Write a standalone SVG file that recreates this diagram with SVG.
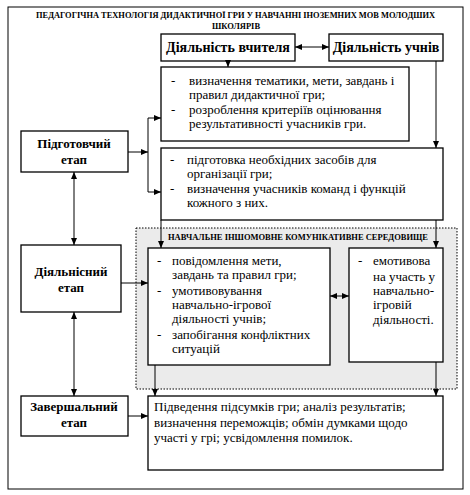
<svg xmlns="http://www.w3.org/2000/svg" width="470" height="495" viewBox="0 0 470 495">
<defs>
<marker id="ah" markerWidth="7" markerHeight="6" refX="7" refY="3" orient="auto-start-reverse" markerUnits="userSpaceOnUse">
<path d="M0,0 L7,3 L0,6 z" fill="#000"/>
</marker>
</defs>
<style>
.box{fill:#fff;stroke:#000;stroke-width:1.3}
.t{font-family:'Liberation Serif','Times New Roman','DejaVu Serif',serif;font-size:13px;fill:#000}
.b{font-family:'Liberation Serif','Times New Roman','DejaVu Serif',serif;font-weight:bold;fill:#000}
.c{fill:none;stroke:#000;stroke-width:1}
</style>
<rect x="0" y="0" width="470" height="495" fill="#fff"/>
<rect x="8" y="7" width="455" height="482" fill="none" stroke="#000" stroke-width="1"/>
<g id="title">
<text class="b" x="36" y="18" font-size="8.5" textLength="399" lengthAdjust="spacingAndGlyphs">ПЕДАГОГІЧНА  ТЕХНОЛОГІЯ   ДИДАКТИЧНОЇ  ГРИ У НАВЧАННІ  ІНОЗЕМНИХ  МОВ МОЛОДШИХ</text>
<text class="b" x="236" y="29" font-size="8.5" text-anchor="middle">ШКОЛЯРІВ</text>
</g>
<g id="environment">
<rect x="136" y="228" width="321" height="161" fill="#ebebeb" stroke="#000" stroke-width="1" stroke-dasharray="1.5,1.5"/>
<text class="b" x="168" y="240" font-size="8.5" textLength="260" lengthAdjust="spacingAndGlyphs">НАВЧАЛЬНЕ   ІНШОМОВНЕ  КОМУНІКАТИВНЕ     СЕРЕДОВИЩЕ</text>
</g>
<g id="teacher">
<rect class="box" x="161" y="34" width="134" height="27"/>
<text class="b" x="228" y="52" font-size="14" text-anchor="middle">Діяльність вчителя</text>
</g>
<g id="students">
<rect class="box" x="329" y="34" width="114" height="27"/>
<text class="b" x="386" y="52" font-size="14" text-anchor="middle">Діяльність учнів</text>
</g>
<g id="prep">
<rect class="box" x="21" y="131" width="107" height="41"/>
<text class="b" x="74" y="148" font-size="13" text-anchor="middle">Підготовчий</text>
<text class="b" x="74" y="164" font-size="13" text-anchor="middle">етап</text>
</g>
<g id="activity">
<rect class="box" x="21" y="245" width="100" height="67"/>
<text class="b" x="71" y="276" font-size="13" text-anchor="middle">Діяльнісний</text>
<text class="b" x="71" y="292" font-size="13" text-anchor="middle">етап</text>
</g>
<g id="final">
<rect class="box" x="21" y="396" width="107" height="40"/>
<text class="b" x="74" y="411" font-size="13" text-anchor="middle">Завершальний</text>
<text class="b" x="74" y="427" font-size="13" text-anchor="middle">етап</text>
</g>
<g id="box1">
<rect class="box" x="161" y="67" width="248" height="74"/>
<text class="t" x="171" y="85">-</text>
<text class="t" x="189" y="85">визначення тематики,  мети, завдань і</text>
<text class="t" x="189" y="99">правил дидактичної гри;</text>
<text class="t" x="171" y="114">-</text>
<text class="t" x="189" y="114">розроблення критеріїв оцінювання</text>
<text class="t" x="189" y="128">результативності учасників гри.</text>
</g>
<g id="box2">
<rect class="box" x="161" y="148" width="282" height="72"/>
<text class="t" x="170" y="164">-</text>
<text class="t" x="187" y="164">підготовка необхідних засобів для</text>
<text class="t" x="187" y="178">організації гри;</text>
<text class="t" x="170" y="193">-</text>
<text class="t" x="187" y="193">визначення учасників команд і функцій</text>
<text class="t" x="187" y="207">кожного з них.</text>
</g>
<g id="box3">
<rect class="box" x="148" y="248" width="182" height="117"/>
<text class="t" x="157" y="265">-</text>
<text class="t" x="172" y="265">повідомлення мети,</text>
<text class="t" x="172" y="279">завдань та правил гри;</text>
<text class="t" x="157" y="295">-</text>
<text class="t" x="172" y="295">умотивовування</text>
<text class="t" x="172" y="309">навчально-ігрової</text>
<text class="t" x="172" y="323">діяльності учнів;</text>
<text class="t" x="157" y="339">-</text>
<text class="t" x="172" y="339">запобігання конфліктних</text>
<text class="t" x="172" y="353">ситуацій</text>
</g>
<g id="box4">
<rect class="box" x="349" y="248" width="94" height="114"/>
<text class="t" x="358" y="265">-</text>
<text class="t" x="373" y="265">емотивова</text>
<text class="t" x="373" y="281">на участь у</text>
<text class="t" x="373" y="295">навчально-</text>
<text class="t" x="373" y="309">ігровій</text>
<text class="t" x="373" y="324">діяльності.</text>
</g>
<g id="box5">
<rect class="box" x="148" y="396" width="295" height="74"/>
<text class="t" x="154" y="411">Підведення підсумків гри;  аналіз результатів;</text>
<text class="t" x="154" y="427">визначення переможців; обмін думками щодо</text>
<text class="t" x="154" y="442">участі у грі; усвідомлення помилок.</text>
</g>
<g id="connectors">
<line class="c" x1="295" y1="47" x2="329" y2="47" marker-start="url(#ah)" marker-end="url(#ah)"/>
<line class="c" x1="228" y1="61" x2="228" y2="67" marker-end="url(#ah)"/>
<line class="c" x1="436" y1="61" x2="436" y2="148" marker-end="url(#ah)"/>
<line class="c" x1="128" y1="152" x2="148" y2="152" marker-end="url(#ah)"/>
<line class="c" x1="148" y1="118" x2="148" y2="192"/>
<line class="c" x1="148" y1="118" x2="161" y2="118" marker-end="url(#ah)"/>
<line class="c" x1="148" y1="192" x2="161" y2="192" marker-end="url(#ah)"/>
<line class="c" x1="74" y1="172" x2="74" y2="245" marker-start="url(#ah)" marker-end="url(#ah)"/>
<line class="c" x1="74" y1="312" x2="74" y2="396" marker-start="url(#ah)" marker-end="url(#ah)"/>
<line class="c" x1="121" y1="283" x2="148" y2="283" marker-end="url(#ah)"/>
<line class="c" x1="161" y1="220" x2="161" y2="248" marker-end="url(#ah)"/>
<line class="c" x1="436" y1="220" x2="436" y2="248" marker-end="url(#ah)"/>
<line class="c" x1="330" y1="296" x2="349" y2="296" marker-start="url(#ah)" marker-end="url(#ah)"/>
<line class="c" x1="155" y1="365" x2="155" y2="396" marker-end="url(#ah)"/>
<line class="c" x1="436" y1="362" x2="436" y2="396" marker-end="url(#ah)"/>
<line class="c" x1="128" y1="416" x2="148" y2="416" marker-end="url(#ah)"/>
</g>
</svg>
